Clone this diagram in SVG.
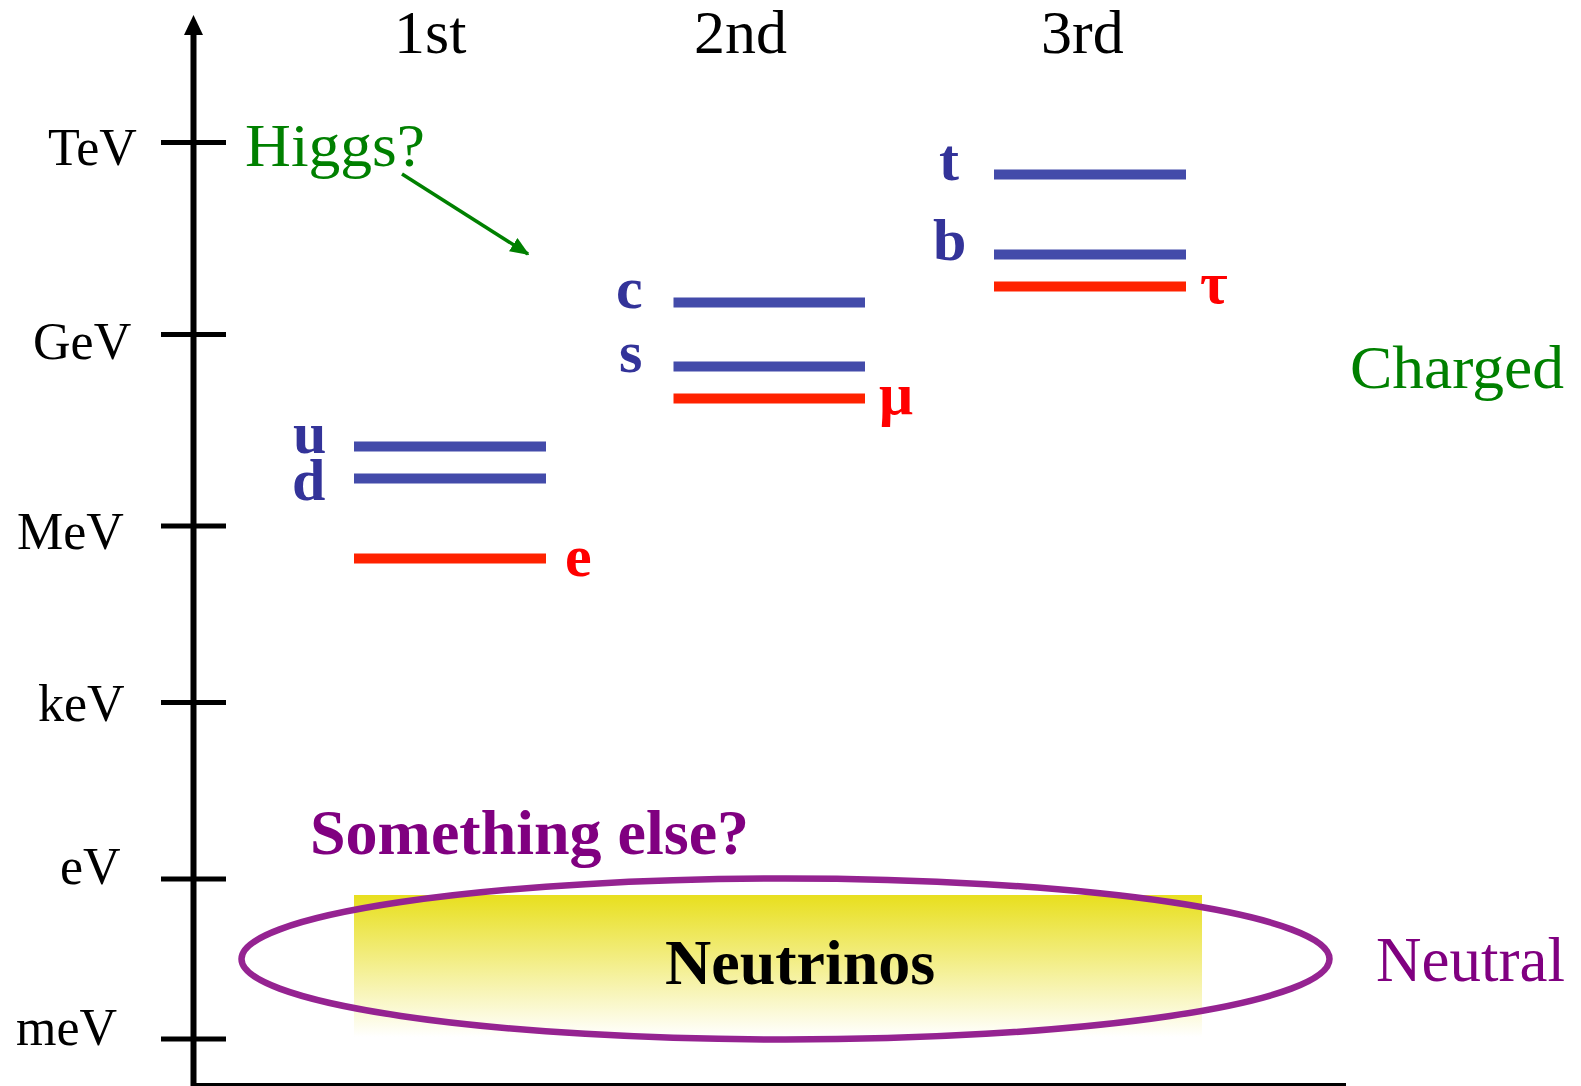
<svg xmlns="http://www.w3.org/2000/svg" width="1581" height="1086" viewBox="0 0 1581 1086">
<style>
.ax{stroke:#000;stroke-width:6;fill:none}
.tick{stroke:#000;stroke-width:5}
.lbl{font-family:"Liberation Serif","Times New Roman",serif;font-size:52px;fill:#000}
.gen{font-family:"Liberation Serif","Times New Roman",serif;font-size:62px;fill:#000}
.q{stroke:#434BAA;stroke-width:10}
.l{stroke:#FF2200;stroke-width:10}
.qt{font-family:"Liberation Serif","Times New Roman",serif;font-weight:bold;font-size:60px;fill:#333399}
.lt{font-family:"Liberation Serif","Times New Roman",serif;font-weight:bold;font-size:60px;fill:#FF0000}
.green{font-family:"Liberation Serif","Times New Roman",serif;font-size:62px;fill:#008000}
.purple{font-family:"Liberation Serif","Times New Roman",serif;font-size:63px;fill:#800080}
.pb{font-family:"Liberation Serif","Times New Roman",serif;font-weight:bold;font-size:64px;fill:#800080}
</style>
<defs>
<linearGradient id="yg" x1="0" y1="0" x2="0" y2="1">
<stop offset="0" stop-color="#E8DF1E"/>
<stop offset="1" stop-color="#FFFFFF"/>
</linearGradient>
<marker id="garrow" markerWidth="5.5" markerHeight="4.5" refX="5" refY="2.25" orient="auto" markerUnits="strokeWidth">
<path d="M0,0 L5.5,2.25 L0,4.5 Z" fill="#008000"/>
</marker>
</defs>
<rect width="1581" height="1086" fill="#fff"/>

<g id="axis">
<line class="ax" x1="193.5" y1="32" x2="193.5" y2="1086"/>
<path d="M193.5,15 L203,35 L184,35 Z" fill="#000"/>
<line x1="191" y1="1084.5" x2="1346" y2="1084.5" stroke="#000" stroke-width="3"/>
<line class="tick" x1="161" y1="142.5" x2="226" y2="142.5"/>
<line class="tick" x1="161" y1="334.5" x2="226" y2="334.5"/>
<line class="tick" x1="161" y1="526" x2="226" y2="526"/>
<line class="tick" x1="161" y1="702.5" x2="226" y2="702.5"/>
<line class="tick" x1="161" y1="879" x2="226" y2="879"/>
<line class="tick" x1="161" y1="1039" x2="226" y2="1039"/>
<text class="lbl" x="48" y="165">TeV</text>
<text class="lbl" x="33" y="359">GeV</text>
<text class="lbl" x="17" y="549">MeV</text>
<text class="lbl" x="38" y="721">keV</text>
<text class="lbl" x="60" y="884">eV</text>
<text class="lbl" x="16" y="1045">meV</text>
</g>

<g id="generations">
<text class="gen" x="394" y="53">1st</text>
<text class="gen" x="694" y="53">2nd</text>
<text class="gen" x="1041" y="53">3rd</text>
</g>

<g id="neutrinos">
<rect x="354" y="895" width="848" height="142" fill="url(#yg)"/>
<ellipse cx="785.5" cy="959" rx="544" ry="80.5" fill="none" stroke="#952391" stroke-width="6.5"/>
<text x="665" y="984" font-family="'Liberation Serif','Times New Roman',serif" font-weight="bold" font-size="64" fill="#000">Neutrinos</text>
</g>

<g id="gen1">
<line class="q" x1="354" y1="446.5" x2="546" y2="446.5"/>
<line class="q" x1="354" y1="478.5" x2="546" y2="478.5"/>
<line class="l" x1="354" y1="558.5" x2="546" y2="558.5"/>
<text class="qt" x="293" y="453">u</text>
<text class="qt" x="292" y="500">d</text>
<text class="lt" x="565" y="576">e</text>
</g>

<g id="gen2">
<line class="q" x1="673.5" y1="302.5" x2="865" y2="302.5"/>
<line class="q" x1="673.5" y1="366.5" x2="865" y2="366.5"/>
<line class="l" x1="673.5" y1="398.5" x2="865" y2="398.5"/>
<text class="qt" x="616" y="308">c</text>
<text class="qt" x="619" y="372">s</text>
<text class="lt" x="879" y="414" font-size="64">μ</text>
</g>

<g id="gen3">
<line class="q" x1="994" y1="174.5" x2="1186" y2="174.5"/>
<line class="q" x1="994" y1="254.5" x2="1186" y2="254.5"/>
<line class="l" x1="994" y1="286.5" x2="1186" y2="286.5"/>
<text class="qt" x="939" y="180">t</text>
<text class="qt" x="933" y="260">b</text>
<text class="lt" x="1200" y="303" font-size="64">τ</text>
</g>

<g id="higgs">
<text class="green" x="245" y="166" font-size="63" textLength="180" lengthAdjust="spacingAndGlyphs">Higgs?</text>
</g>

<g id="connectors">
<line x1="402" y1="174" x2="528" y2="254" stroke="#008000" stroke-width="3.5" marker-end="url(#garrow)"/>
</g>

<g id="labels">
<text class="green" x="1350" y="388" font-size="64" textLength="214" lengthAdjust="spacingAndGlyphs">Charged</text>
<text class="purple" x="1376" y="981">Neutral</text>
<text class="pb" x="310" y="854">Something else?</text>
</g>
</svg>
